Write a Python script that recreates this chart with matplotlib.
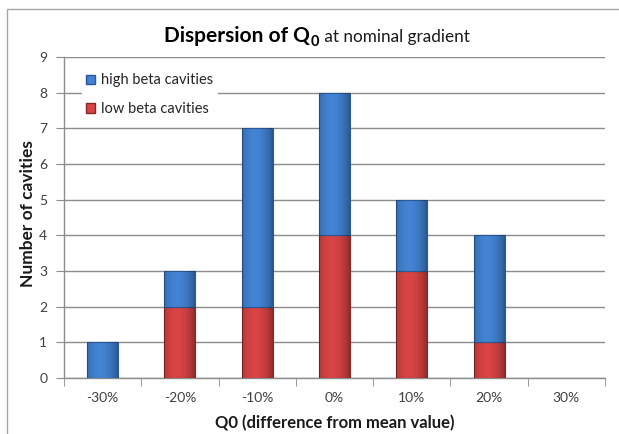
import matplotlib
matplotlib.use("Agg")
import matplotlib.pyplot as plt
from matplotlib.patches import Rectangle, Patch
from matplotlib.transforms import IdentityTransform
import numpy as np

categories = ["-30%", "-20%", "-10%", "0%", "10%", "20%", "30%"]
low_beta = [0, 2, 2, 4, 3, 1, 0]
high_beta = [1, 1, 5, 4, 2, 3, 0]

plt.rcParams['font.family'] = ['Lato', 'DejaVu Sans']

W, H = 619, 434
fig = plt.figure(figsize=(W / 100, H / 100), dpi=100)
ax = fig.add_axes([64 / W, 1 - 378 / H, (605 - 64) / W, (378 - 57) / H])

x = np.arange(len(categories))
blue = "#4283d3"
red = "#d84444"
low_bars = ax.bar(x, low_beta, width=0.4, color=red, edgecolor="#8a2525", linewidth=0.8, zorder=3)
high_bars = ax.bar(x, high_beta, width=0.4, bottom=low_beta, color=blue, edgecolor="#2a5a98",
                   linewidth=0.8, zorder=3)

# subtle horizontal shading to mimic the bevelled bars
t = np.linspace(0, 1, 64)
alpha = 0.32 * (np.abs(t - 0.42) / 0.58) ** 2
shade = np.zeros((1, 64, 4))
shade[0, :, 3] = alpha
for bars, vals in ((low_bars, low_beta), (high_bars, high_beta)):
    for b, v in zip(bars, vals):
        if v == 0:
            b.set_visible(False)
            continue
        bx, by, bw, bh = b.get_x(), b.get_y(), b.get_width(), b.get_height()
        im = ax.imshow(shade, extent=(bx, bx + bw, by, by + bh), aspect='auto',
                       interpolation='bilinear', zorder=3.5)
        im.set_clip_path(b)

ax.set_xlim(-0.5, len(categories) - 0.5)
ax.set_ylim(0, 9)
ax.set_yticks(range(0, 10))
ax.set_xticks(x)
ax.set_xticklabels(categories)
ax.set_xticks(np.arange(-0.5, len(categories), 1), minor=True)
ax.tick_params(axis='x', which='major', length=0, pad=10, labelsize=10, labelcolor="#404040")
ax.tick_params(axis='x', which='minor', length=6, color="#8c8c8c", direction='out')
ax.tick_params(axis='y', length=6, color="#8c8c8c", direction='out', pad=6, labelsize=10, labelcolor="#404040")
ax.grid(axis='y', color="#8c8c8c", linewidth=1, zorder=0)
ax.set_axisbelow(True)
for s in ['top', 'right']:
    ax.spines[s].set_visible(False)
for s in ['left', 'bottom']:
    ax.spines[s].set_color("#8c8c8c")
    ax.spines[s].set_linewidth(1)

handles = [Patch(facecolor=blue, edgecolor="#2a5a98"), Patch(facecolor=red, edgecolor="#8a2525")]
leg = ax.legend(handles, ["high beta cavities", "low beta cavities"], loc='upper left',
                bbox_to_anchor=(0.02, 0.985), frameon=True, fancybox=False, framealpha=1,
                edgecolor='none', facecolor='white', handlelength=0.6, handleheight=0.6,
                handletextpad=0.4, labelspacing=1.0, fontsize=10.5, borderpad=0.3)
leg.set_zorder(5)
for tx in leg.get_texts():
    tx.set_color("#262626")

# Figure border
fig.patches.append(Rectangle((7, -10), W + 20, H - 9 + 10, transform=IdentityTransform(),
                             fill=False, edgecolor="#a6a6a6", linewidth=1))

# Axis labels
fig.text(28 / W, 1 - 214 / H, "Number of cavities", rotation=90, ha='center', va='center',
         fontsize=12.5, fontweight='bold', color="#1a1a1a")
fig.text(335 / W, 1 - 423 / H, "Q0 (difference from mean value)", ha='center', va='center',
         fontsize=12, fontweight='bold', color="#1a1a1a")

# Title composed of pieces
fig.canvas.draw()
r = fig.canvas.get_renderer()
base_y = H - 42
t1 = fig.text(0, base_y, "Dispersion of Q", transform=IdentityTransform(), fontsize=15,
              fontweight='bold', va='baseline', ha='left', color="#000000")
t2 = fig.text(0, base_y - 4, "0", transform=IdentityTransform(), fontsize=10.5,
              fontweight='bold', va='baseline', ha='left', color="#000000")
t3 = fig.text(0, base_y, " at nominal gradient", transform=IdentityTransform(), fontsize=12.3,
              va='baseline', ha='left', color="#1a1a1a")
w1 = t1.get_window_extent(r).width
w2 = t2.get_window_extent(r).width
w3 = t3.get_window_extent(r).width
total = w1 + w2 + w3
start = 316.5 - total / 2
t1.set_x(start)
t2.set_x(start + w1 + 0.5)
t3.set_x(start + w1 + w2 + 1)

fig.savefig("out.png", dpi=100)
